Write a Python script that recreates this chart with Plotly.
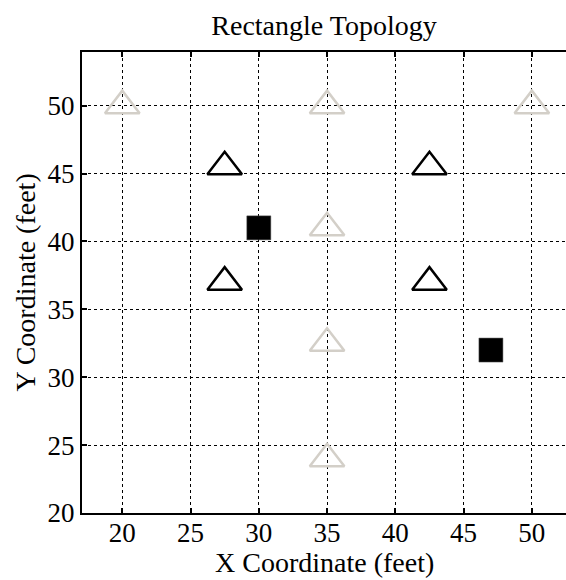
import plotly.graph_objects as go

# Data
gray_x = [20, 35, 50, 35, 35, 35]
gray_y = [50, 50, 50, 41, 32.5, 24]
black_tri_x = [27.5, 42.5, 27.5, 42.5]
black_tri_y = [45.5, 45.5, 37, 37]
square_x = [30, 47]
square_y = [41, 32]
x_ticks = [20, 25, 30, 35, 40, 45, 50]
y_ticks = [20, 25, 30, 35, 40, 45, 50]

FONT = "'Liberation Serif', 'Times New Roman', Times, 'DejaVu Serif', serif"
FS_TICK = 27
FS_TITLE = 28

fig = go.Figure()
fig.add_trace(go.Scatter(
    x=gray_x, y=gray_y, mode="markers",
    marker=dict(symbol="triangle-up-open", size=30, color="#d3cfc8",
                line=dict(width=2.5, color="#d3cfc8")),
    showlegend=False, hoverinfo="skip"))
fig.add_trace(go.Scatter(
    x=black_tri_x, y=black_tri_y, mode="markers",
    marker=dict(symbol="triangle-up-open", size=30, color="black",
                line=dict(width=2.5, color="black")),
    showlegend=False, hoverinfo="skip"))
fig.add_trace(go.Scatter(
    x=square_x, y=square_y, mode="markers",
    marker=dict(symbol="square", size=24, color="black",
                line=dict(width=0.5, color="#555555")),
    showlegend=False, hoverinfo="skip"))

axis_common = dict(
    showgrid=True, gridcolor="black", griddash="dot", gridwidth=1,
    showline=True, linecolor="black", linewidth=2,
    ticks="inside", ticklen=5, tickwidth=1.5, tickcolor="black",
    zeroline=False, automargin=False,
    tickfont=dict(family=FONT, size=FS_TICK, color="black"),
)

fig.update_layout(
    width=566, height=580,
    font=dict(family=FONT, color="black"),
    margin=dict(l=82, r=0, t=52, b=67),
    paper_bgcolor="white", plot_bgcolor="white",
    title=dict(text="Rectangle Topology", x=0.5, xanchor="center",
               xref="paper", y=1 - 25 / 580, yref="container",
               yanchor="middle",
               font=dict(family=FONT, size=FS_TITLE, color="black")),
    xaxis=dict(range=[17.05, 52.5], tickvals=x_ticks, mirror="ticks",
               ticklabelstandoff=-5, **axis_common),
    yaxis=dict(range=[20, 53.95], tickvals=y_ticks, mirror=False,
               **axis_common),
    annotations=[
        dict(text="X Coordinate (feet)", xref="paper", yref="paper",
             x=0.5, y=-(562 - 513) / 461, xanchor="center", yanchor="middle",
             showarrow=False,
             font=dict(family=FONT, size=FS_TITLE, color="black")),
        dict(text="Y Coordinate (feet)", xref="paper", yref="paper",
             x=(25 - 82) / 484, y=0.5, xanchor="center", yanchor="middle",
             textangle=-90, showarrow=False,
             font=dict(family=FONT, size=FS_TITLE, color="black")),
    ],
)

fig.write_html(
    "out.html",
    config={"displayModeBar": False},
    post_script="document.body.style.margin='0';"
                "document.body.style.overflow='hidden';"
                "document.documentElement.style.overflow='hidden';",
)
